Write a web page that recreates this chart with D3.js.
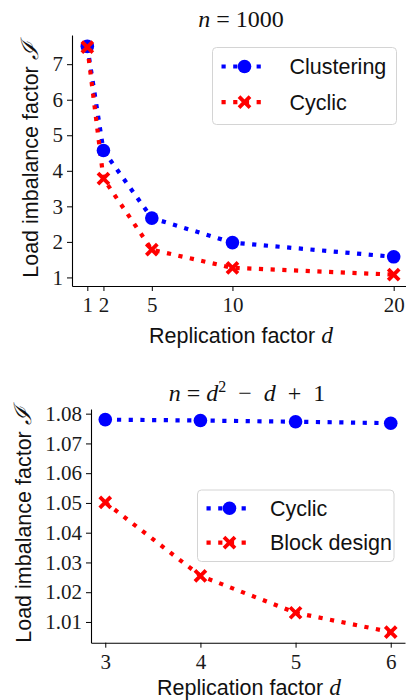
<!DOCTYPE html>
<html><head><meta charset="utf-8">
<script src="https://cdn.jsdelivr.net/npm/d3@7"></script>
<style>body{margin:0;background:#fff}svg{display:block}</style>
</head><body><svg id="c" width="406" height="700"></svg>
<script>
// Top chart data (n = 1000)
const topD = [1, 2, 5, 10, 20];
const topClustering = [7.50, 4.57, 2.67, 1.98, 1.58];
const topCyclic = [7.48, 3.78, 1.78, 1.27, 1.08];
const topXTicks = [1, 2, 5, 10, 20];
const topYTicks = [1, 2, 3, 4, 5, 6, 7];
// Bottom chart data (n = d^2 - d + 1)
const botD = [3, 4, 5, 6];
const botCyclic = [1.0780, 1.0777, 1.0773, 1.0768];
const botBlock = [1.0502, 1.0255, 1.0131, 1.0066];
const botXTicks = [3, 4, 5, 6];
const botYTicks = [1.01, 1.02, 1.03, 1.04, 1.05, 1.06, 1.07, 1.08];

const BLUE = "#0000ff", RED = "#ff0000";
const svg = d3.select("#c");
const SERIF = "'Liberation Serif', 'DejaVu Serif', serif";
const SANS = "'Liberation Sans', 'DejaVu Sans', sans-serif";

function pad(arr){const mn=d3.min(arr),mx=d3.max(arr),m=(mx-mn)*0.05;return [mn-m,mx+m];}

function panel(cfg){
  const g = svg.append("g");
  const x = d3.scaleLinear().domain(pad(cfg.xs)).range([cfg.left, cfg.left + cfg.xw]);
  const y = d3.scaleLinear().domain(pad(cfg.ys.flat())).range([cfg.bottom, cfg.top]);
  const cid = "clip" + cfg.id;
  g.append("clipPath").attr("id", cid).append("rect")
    .attr("x", cfg.left - 10).attr("y", cfg.top - 10).attr("width", 406 - cfg.left + 10).attr("height", cfg.bottom - cfg.top + 20);
  const xa = g.append("g").attr("transform", `translate(0,${cfg.bottom})`)
    .call(d3.axisBottom(x).tickValues(cfg.xticks).tickSize(5).tickPadding(3).tickSizeOuter(0).tickFormat(d3.format("d")));
  const ya = g.append("g").attr("transform", `translate(${cfg.left},0)`)
    .call(d3.axisLeft(y).tickValues(cfg.yticks).tickSize(5).tickPadding(4).tickSizeOuter(0).tickFormat(cfg.yfmt));
  [xa, ya].forEach(a => {
    a.selectAll("path.domain").attr("stroke", "#000").attr("stroke-width", 1.1);
    a.selectAll(".tick line").attr("stroke", "#000").attr("stroke-width", 1);
    a.selectAll("text").attr("font-family", SERIF).attr("font-size", cfg.tickFs).attr("fill", "#1a1a1a");
  });
  xa.selectAll("text").attr("dy", "0.85em");
  const series = [
    {vals: cfg.ys[0], color: BLUE, marker: cfg.markers[0], name: cfg.names[0]},
    {vals: cfg.ys[1], color: RED, marker: cfg.markers[1], name: cfg.names[1]}
  ];
  const plot = g.append("g").attr("clip-path", `url(#${cid})`);
  const line = d3.line().x((d,i)=>x(cfg.xs[i])).y(d=>y(d));
  series.forEach(s => {
    plot.append("path").datum(s.vals).attr("d", line).attr("fill","none")
      .attr("stroke", s.color).attr("stroke-width", 4.2).attr("stroke-dasharray", "4.2 7.5");
  });
  series.forEach(s => {
    s.vals.forEach((v,i) => drawMarker(plot, s.marker, x(cfg.xs[i]), y(v), s.color));
  });
  const L = cfg.legend;
  g.append("rect").attr("x", L.x).attr("y", L.y).attr("width", L.w).attr("height", L.h)
    .attr("rx", 4).attr("fill", "#fff").attr("fill-opacity", 0.85).attr("stroke", "#d4d4d4").attr("stroke-width", 1);
  series.forEach((s, i) => {
    const ry = L.y + L.r0 + i * L.dy;
    g.append("line").attr("x1", L.x + 9).attr("x2", L.x + 54).attr("y1", ry).attr("y2", ry)
      .attr("stroke", s.color).attr("stroke-width", 4.2).attr("stroke-dasharray", "4.2 7.5");
    drawMarker(g, s.marker, L.x + 32, ry, s.color);
    g.append("text").attr("x", L.x + L.tx).attr("y", ry).attr("dy", "0.36em")
      .attr("font-family", SANS).attr("font-size", 21.5).attr("fill", "#111").text(s.name);
  });
  g.append("text").attr("x", cfg.xlab[0]).attr("y", cfg.xlab[1]).attr("text-anchor","middle").attr("dy","0.36em")
    .attr("font-family", SANS).attr("font-size", 21.5).attr("fill","#111")
    .call(t => { t.append("tspan").text("Replication factor "); t.append("tspan").attr("font-family", SERIF).attr("font-style","italic").attr("font-size", 23.5).text("d"); });
  g.append("text").attr("transform", `translate(${cfg.ylab[0]},${cfg.ylab[1]}) rotate(-90)`).attr("text-anchor","middle").attr("dy","0.36em")
    .attr("font-family", SANS).attr("font-size", 21.5).attr("fill","#111")
    .call(t => { t.append("tspan").text("Load imbalance factor "); t.append("tspan").attr("font-family", SERIF).attr("font-style","italic").attr("font-size", 24).text("ℐ"); });
  const tt = g.append("text").attr("x", cfg.title[0]).attr("y", cfg.title[1]).attr("text-anchor","middle").attr("dy","0.36em")
    .attr("font-family", SERIF).attr("font-size", 24).attr("fill","#111").attr("xml:space","preserve");
  cfg.titleParts.forEach(p => {
    const ts = tt.append("tspan").text(p.t);
    if (p.i) ts.attr("font-style","italic");
    if (p.sup) ts.attr("font-size", 16).attr("dy", "-0.55em");
    if (p.after) ts.attr("dy", "0.37em");
  });
}

function drawMarker(g, type, cx, cy, color){
  if (type === "o") {
    g.append("circle").attr("cx", cx).attr("cy", cy).attr("r", 6.8).attr("fill", color);
  } else {
    const r = 5.5;
    g.append("path").attr("d", `M${cx-r},${cy-r}L${cx+r},${cy+r}M${cx-r},${cy+r}L${cx+r},${cy-r}`)
      .attr("stroke", color).attr("stroke-width", 3.8).attr("fill","none");
  }
}

panel({
  id: "a", xs: topD, ys: [topClustering, topCyclic], xticks: topXTicks, yticks: topYTicks,
  left: 72, xw: 337, top: 35, bottom: 286, tickFs: 21, yfmt: d3.format("d"),
  markers: ["o","x"], names: ["Clustering","Cyclic"],
  legend: {x: 212.5, y: 47.5, w: 184, h: 77, r0: 19, dy: 35.6, tx: 77},
  xlab: [241, 335], ylab: [30, 160], title: [241, 18],
  titleParts: [{t:"n", i:true},{t:" = 1000"}]
});
panel({
  id: "b", xs: botD, ys: [botCyclic, botBlock], xticks: botXTicks, yticks: botYTicks,
  left: 91, xw: 314, top: 409, bottom: 642.7, tickFs: 21, yfmt: d3.format(".2f"),
  markers: ["o","x"], names: ["Cyclic","Block design"],
  legend: {x: 197.5, y: 490, w: 196.5, h: 71.5, r0: 18.3, dy: 34.4, tx: 72.5},
  xlab: [249, 687.5], ylab: [23, 525], title: [247, 392],
  titleParts: [{t:"n", i:true},{t:" = "},{t:"d", i:true},{t:"2", sup:true},{t:"\u2002−\u2002", after:true},{t:"d", i:true},{t:"\u2002+\u20021"}]
});
</script></body></html>
